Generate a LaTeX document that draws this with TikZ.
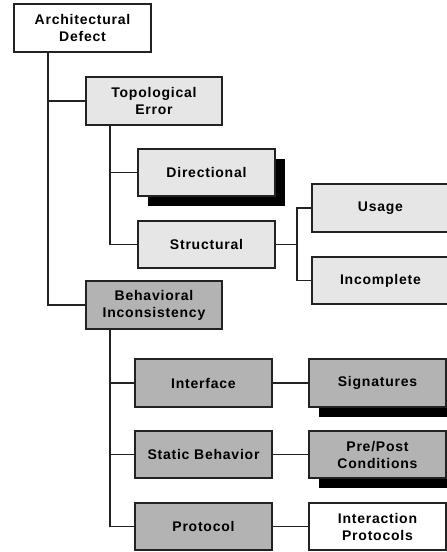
\documentclass[tikz,border=0pt]{standalone}
\usepackage{fontspec}
\setmainfont{Liberation Sans}[LetterSpace=5.5]
\usetikzlibrary{shadows}
\definecolor{lightbox}{HTML}{E6E6E6}
\definecolor{darkbox}{HTML}{B3B3B3}
\definecolor{edge}{HTML}{222222}
\begin{document}
\begin{tikzpicture}[x=1pt,y=-1pt,
  box/.style={draw=edge, line width=1.1pt, minimum width=137pt, minimum height=48pt,
    inner sep=0pt, align=center, font=\fontsize{14}{17}\selectfont\bfseries, text=black},
  whitebox/.style={box, fill=white},
  lightb/.style={box, fill=lightbox},
  darkb/.style={box, fill=darkbox},
  shad/.style={drop shadow={shadow xshift=10pt, shadow yshift=-10pt, fill=black, opacity=1}},
  conn/.style={draw=edge, line width=1.1pt}]
\useasboundingbox (0,0) rectangle (447,552);
\clip (0,0) rectangle (447,552);
\fill[white] (0,0) rectangle (447,552);

\node[whitebox] (arch) at (82.5,28) {Architectural\\Defect};
\node[lightb, minimum width=136pt] (topo) at (154,101) {Topological\\Error};
\node[lightb, shad, minimum height=47pt] (dir) at (206.5,172.5) {Directional};
\node[lightb, minimum height=47pt] (struct) at (206.5,244.5) {Structural};
\node[lightb] (usage) at (380.5,208) {Usage};
\node[lightb, minimum height=47pt] (incomp) at (380.5,280.5) {Incomplete};
\node[darkb, minimum width=136pt] (behav) at (154,305) {Behavioral\\Inconsistency};
\node[darkb] (iface) at (203.5,383) {Interface};
\node[darkb, minimum height=47pt] (static) at (203.5,454.5) {Static Behavior};
\node[darkb, minimum height=47pt] (proto) at (203.5,526.5) {Protocol};
\node[darkb, shad] (sig) at (377.5,383) {Signatures};
\node[darkb, shad, minimum height=47pt] (prepost) at (377.5,454.5) {Pre/Post\\Conditions};
\node[whitebox, minimum height=47pt] (inter) at (377.5,526.5) {Interaction\\Protocols};

\draw[conn] ([xshift=-34.5pt]arch.south) |- (topo.west);
\draw[conn] ([xshift=-34.5pt]arch.south) |- (behav.west);
\draw[conn] ([xshift=-44pt]topo.south) |- (dir.west);
\draw[conn] ([xshift=-44pt]topo.south) |- (struct.west);
\coordinate (sj) at (297,244.5);
\draw[conn] (struct.east) -- (sj);
\draw[conn] (sj) |- (usage.west);
\draw[conn] (sj) |- (incomp.west);
\draw[conn] ([xshift=-44pt]behav.south) |- (iface.west);
\draw[conn] ([xshift=-44pt]behav.south) |- (static.west);
\draw[conn] ([xshift=-44pt]behav.south) |- (proto.west);
\draw[conn] (iface.east) -- (sig.west);
\draw[conn] (static.east) -- (prepost.west);
\draw[conn] (proto.east) -- (inter.west);
\end{tikzpicture}
\end{document}
